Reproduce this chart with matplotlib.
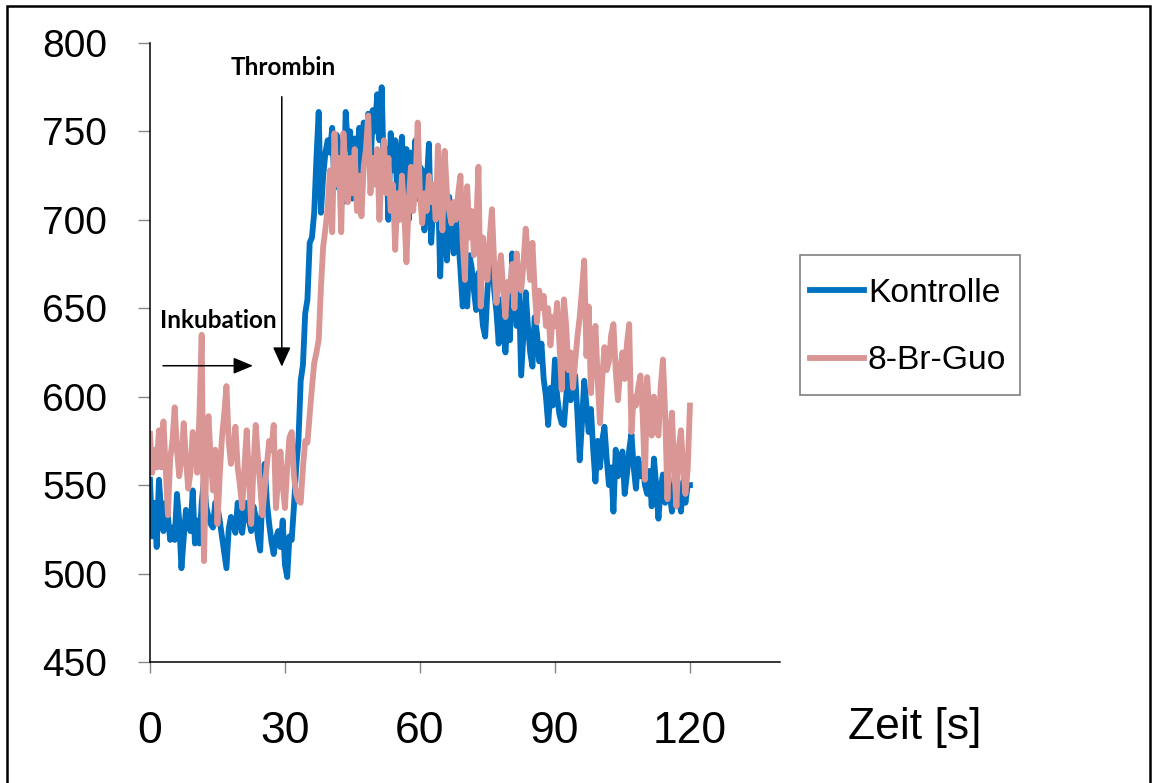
import numpy as np
import matplotlib
matplotlib.use('Agg')
import matplotlib.pyplot as plt
from matplotlib.patches import Rectangle

# Messzeitpunkte (alle 0.5 s)
zeit = np.linspace(0, 120, 241)

# Kontrolle, Werte
kontrolle = [553, 521, 540, 515, 553, 535, 524, 540, 532, 519, 526, 519, 545, 530, 503, 520, 536, 530, 524, 547, 517,
             530, 517, 540, 553, 538, 532, 528, 526, 540, 538, 530, 521, 512, 503, 525, 532, 528, 523, 540, 530,
             523, 535, 540, 530, 524, 538, 532, 520, 513, 545, 562, 540, 528, 518, 511, 520, 524, 515, 530, 505,
             498, 521, 519, 538, 560, 575, 609, 618, 647, 655, 687, 690, 704, 735, 761, 704, 725, 738, 745, 738,
             752, 718, 748, 728, 745, 710, 761, 740, 750, 712, 746, 730, 752, 720, 755, 742, 760, 725, 762, 750,
             771, 745, 775, 722, 740, 700, 749, 728, 745, 710, 735, 747, 715, 740, 700, 738, 725, 745, 712, 730,
             728, 694, 720, 743, 687, 710, 700, 722, 668, 705, 717, 677, 713, 695, 681, 700, 690, 672, 651, 665,
             651, 680, 673, 660, 649, 670, 655, 640, 634, 660, 675, 687, 660, 648, 630, 655, 640, 625, 645, 632,
             681, 655, 640, 660, 612, 635, 659, 640, 625, 617, 645, 636, 620, 630, 610, 600, 584, 605, 595, 621,
             600, 590, 585, 584, 600, 615, 598, 605, 612, 590, 564, 585, 609, 595, 580, 593, 570, 552, 575, 560,
             575, 583, 565, 550, 560, 535, 570, 555, 560, 569, 545, 556, 570, 579, 560, 548, 565, 555, 562, 550,
             545, 558, 538, 565, 550, 531, 548, 556, 540, 562, 545, 535, 550, 538, 545, 535, 552, 540, 550, 550]

# 8-Br-Guo
br_guo = [579, 557, 570, 560, 581, 560, 586, 560, 533, 565, 575, 594, 570, 555, 565, 585, 565, 548, 557, 580, 571,
          557, 590, 635, 507, 560, 589, 565, 547, 570, 528, 555, 577, 590, 606, 575, 562, 570, 583, 560, 550,
          537, 560, 581, 555, 528, 560, 584, 565, 550, 533, 548, 562, 575, 570, 584, 537, 555, 569, 550, 537,
          560, 577, 580, 555, 545, 541, 540, 560, 575, 574, 590, 605, 619, 625, 632, 662, 685, 695, 707, 728,
          693, 749, 720, 735, 693, 749, 725, 710, 735, 715, 740, 705, 725, 702, 730, 740, 759, 715, 735, 720,
          740, 700, 730, 745, 715, 735, 705, 720, 683, 715, 700, 725, 705, 676, 710, 730, 705, 720, 755, 715,
          698, 715, 705, 725, 710, 720, 700, 742, 720, 694, 739, 715, 705, 698, 710, 700, 715, 725, 687, 666,
          719, 690, 705, 680, 695, 730, 651, 690, 675, 666, 690, 706, 675, 653, 670, 680, 660, 645, 665, 660,
          675, 650, 681, 665, 660, 675, 695, 680, 666, 687, 660, 642, 660, 650, 657, 640, 650, 629, 645, 640,
          653, 630, 604, 655, 640, 615, 625, 605, 620, 634, 645, 660, 677, 623, 651, 602, 625, 640, 610, 585,
          610, 628, 615, 620, 635, 641, 615, 598, 615, 625, 610, 630, 641, 580, 600, 595, 605, 612, 590, 553,
          611, 590, 578, 600, 585, 578, 605, 621, 590, 542, 575, 591, 560, 538, 570, 581, 560, 545, 559, 595]

x_ticks = [0, 30, 60, 90, 120]
y_ticks = [450, 500, 550, 600, 650, 700, 750, 800]

plt.rcParams['font.family'] = ['Liberation Sans', 'DejaVu Sans']

fig = plt.figure(figsize=(11.57, 7.83), dpi=100)
ax = fig.add_axes([0.1296, 0.1546, 0.5445, 0.7905])

ax.plot(zeit, kontrolle, color='#0070C0', lw=4.2, label='Kontrolle', solid_joinstyle='round')
ax.plot(zeit, br_guo, color='#D99694', lw=4.2, label='8-Br-Guo', solid_joinstyle='round')

ax.set_xlim(0, 140)
ax.set_ylim(450, 800)
ax.set_xticks(x_ticks)
ax.set_yticks(y_ticks)
ax.tick_params(axis='y', labelsize=28, length=9, width=1, color='#868686', pad=22)
ax.tick_params(axis='x', labelsize=32, length=8, width=1, color='#868686', pad=27)
for s in ['top', 'right']:
    ax.spines[s].set_visible(False)
ax.spines['left'].set_linewidth(1.1)
ax.spines['bottom'].set_linewidth(1.1)

fig.text(915 / 1157, 1 - 728 / 783, 'Zeit [s]', fontsize=32, ha='center', va='center')

# Pfeile und Beschriftungen
ax.annotate('', xy=(29.3, 617), xytext=(29.3, 769.6),
            arrowprops=dict(arrowstyle='-|>,head_length=1.2,head_width=0.55', color='black', lw=1.1,
                            shrinkA=0, shrinkB=0))
ax.annotate('', xy=(22.9, 617.5), xytext=(2.9, 617.5),
            arrowprops=dict(arrowstyle='-|>,head_length=1.2,head_width=0.5', color='black', lw=1.1,
                            shrinkA=0, shrinkB=0))
ax.text(29.6, 786, 'Thrombin', family=['Lato', 'DejaVu Sans'], fontweight='bold', fontsize=17.5,
        ha='center', va='center')
ax.text(2.2, 643, 'Inkubation', family=['Lato', 'DejaVu Sans'], fontweight='bold', fontsize=17.5,
        ha='left', va='center')

# Legende ohne eigenen Rahmen, Rahmen separat
leg = ax.legend(loc='upper left', bbox_to_anchor=(810 / 1157, 1 - 278 / 783), bbox_transform=fig.transFigure,
                fontsize=24.2, frameon=False, borderaxespad=0, borderpad=0, handlelength=1.6,
                handletextpad=0.12, labelspacing=1.08)
fig.add_artist(Rectangle((800 / 1157, 1 - 395 / 783), 220 / 1157, 140 / 783, transform=fig.transFigure,
                         fill=False, edgecolor='#808080', lw=1.2))

# Rahmen um das Diagramm
fig.add_artist(Rectangle((7 / 1157, -0.02), 1143 / 1157, 1.02 - 6 / 783, transform=fig.transFigure,
                         fill=False, edgecolor='black', lw=1.8))

fig.savefig('out.png', dpi=100)
